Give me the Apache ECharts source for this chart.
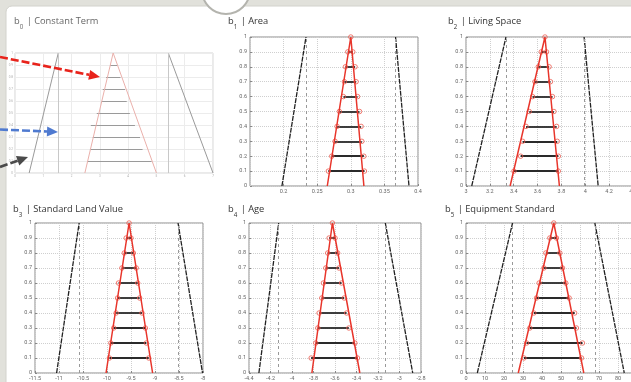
<!DOCTYPE html>
<html>
<head>
<meta charset="utf-8">
<script src="https://cdn.jsdelivr.net/npm/echarts@6/dist/echarts.min.js"></script>
<style>
  html, body { margin: 0; padding: 0; background: #e1e1db; }
  #chart { width: 631px; height: 382px; }
</style>
</head>
<body>
<div id="chart"></div>
<script>
// alpha levels of the cuts (same for every coefficient)
const alphaLevels = [0.1, 0.2, 0.3, 0.4, 0.5, 0.6, 0.7, 0.8, 0.9];

// tri = [left foot, peak, right foot], outer = [left bottom, left top, right top, right bottom]
// axis = [min, max, step]
// b0 - axis labels are unreadable in the source, so index units are used
const b0Tri = [2.47, 3.47, 5.0];
const b0Lower = [2.55, 2.65, 2.75, 2.68, 2.89, 3.06, 3.10, 3.22, 3.36];
const b0Upper = [4.83, 4.51, 4.42, 4.24, 4.06, 3.95, 3.89, 3.73, 3.62];
const b0Outer = [0.5, 1.53, 5.42, 7.0];
const b0Axis = [0, 7, 1];

const b1Tri = [0.265, 0.3, 0.3195];
const b1Lower = [0.2666, 0.2716, 0.2766, 0.2796, 0.2830, 0.2890, 0.2905, 0.2920, 0.2955];
const b1Upper = [0.3203, 0.3194, 0.3164, 0.3154, 0.3130, 0.3101, 0.3079, 0.3064, 0.3030];
const b1Outer = [0.1975, 0.2333, 0.3666, 0.3866];
const b1Axis = [0.15, 0.4, 0.05];

const b2Tri = [3.37, 3.662, 3.783];
const b2Lower = [3.402, 3.458, 3.475, 3.503, 3.530, 3.558, 3.578, 3.606, 3.631];
const b2Upper = [3.774, 3.774, 3.765, 3.760, 3.737, 3.725, 3.708, 3.697, 3.675];
const b2Outer = [3.048, 3.335, 3.99, 4.108];
const b2Axis = [3, 4.4, 0.2];

const b3Tri = [-10.02, -9.54, -9.05];
const b3Lower = [-9.95, -9.92, -9.86, -9.81, -9.78, -9.76, -9.69, -9.64, -9.60];
const b3Upper = [-9.13, -9.18, -9.20, -9.27, -9.32, -9.36, -9.39, -9.45, -9.50];
const b3Outer = [-11.05, -10.58, -8.52, -8.01];
const b3Axis = [-11.5, -8, 0.5];

const b4Tri = [-3.815, -3.624, -3.369];
const b4Lower = [-3.822, -3.779, -3.760, -3.748, -3.723, -3.708, -3.686, -3.668, -3.655];
const b4Upper = [-3.391, -3.415, -3.471, -3.492, -3.514, -3.539, -3.563, -3.575, -3.600];
const b4Outer = [-4.308, -4.124, -3.132, -2.877];
const b4Axis = [-4.4, -2.8, 0.2];

const b5Tri = [27.5, 46.2, 62.0];
const b5Lower = [30.5, 31.9, 33.6, 35.7, 37.1, 38.5, 41.0, 42.0, 44.1];
const b5Upper = [60.8, 61.3, 58.1, 57.2, 54.3, 52.5, 50.8, 49.4, 47.6];
const b5Outer = [5.95, 24.5, 67.8, 83.3];
const b5Axis = [0, 90, 10];

const panels = [
  { name: 'Constant Term', sub: '0', tri: b0Tri, lower: b0Lower, upper: b0Upper, outer: b0Outer, axis: b0Axis,
    faded: true, grid: { left: 15, top: 53, width: 198, height: 120 }, title: { left: 14, top: 17 } },
  { name: 'Area', sub: '1', tri: b1Tri, lower: b1Lower, upper: b1Upper, outer: b1Outer, axis: b1Axis,
    hideMin: true, grid: { left: 250, top: 37, width: 168, height: 149 }, title: { left: 228, top: 17 } },
  { name: 'Living Space', sub: '2', tri: b2Tri, lower: b2Lower, upper: b2Upper, outer: b2Outer, axis: b2Axis,
    grid: { left: 466, top: 37, width: 167, height: 149 }, title: { left: 448, top: 17 } },
  { name: 'Standard Land Value', sub: '3', tri: b3Tri, lower: b3Lower, upper: b3Upper, outer: b3Outer, axis: b3Axis,
    grid: { left: 35, top: 223, width: 168, height: 150 }, title: { left: 13, top: 205 } },
  { name: 'Age', sub: '4', tri: b4Tri, lower: b4Lower, upper: b4Upper, outer: b4Outer, axis: b4Axis,
    grid: { left: 249, top: 223, width: 172, height: 150 }, title: { left: 228, top: 205 } },
  { name: 'Equipment Standard', sub: '5', tri: b5Tri, lower: b5Lower, upper: b5Upper, outer: b5Outer, axis: b5Axis,
    grid: { left: 466, top: 223, width: 171, height: 150 }, title: { left: 445, top: 205 } },
];

const RED = '#e8352b';
const FONT = '"Open Sans", "Liberation Sans", sans-serif';

const grid = [], xAxis = [], yAxis = [], series = [], title = [];

panels.forEach((p, i) => {
  const f = !!p.faded;
  grid.push(Object.assign({}, p.grid, {
    show: true, backgroundColor: '#fff', borderColor: f ? '#d4d4d4' : '#8c8c8c', borderWidth: 1,
    outerBoundsMode: 'none'
  }));
  const lbl = f ? { fontSize: 3, color: '#aaa', margin: 2 } : { fontSize: 5.5, color: '#666', margin: 3 };
  xAxis.push({
    gridIndex: i, type: 'value', min: p.axis[0], max: p.axis[1], interval: p.axis[2],
    axisLine: { show: false },
    axisTick: { show: !f, inside: true, length: 2, lineStyle: { color: '#888' } },
    axisLabel: Object.assign({ showMinLabel: !p.hideMin, fontFamily: 'Roboto' }, lbl),
    splitLine: { show: true, lineStyle: { type: f ? 'solid' : 'dotted', color: f ? '#ececec' : '#cfcfcf' } }
  });
  yAxis.push({
    gridIndex: i, type: 'value', min: 0, max: 1, interval: 0.1,
    axisLine: { show: false },
    axisTick: { show: !f, inside: true, length: 2, lineStyle: { color: '#888' } },
    axisLabel: Object.assign({ fontFamily: 'Roboto' }, lbl),
    splitLine: { show: true, lineStyle: { type: f ? 'solid' : 'dotted', color: f ? '#ececec' : '#cfcfcf' } }
  });

  const o = p.outer;
  // outer support lines
  series.push({
    type: 'lines', coordinateSystem: 'cartesian2d', xAxisIndex: i, yAxisIndex: i, silent: true,
    lineStyle: { color: f ? '#9a9a9a' : '#222', width: f ? 1 : 1.3, type: f ? 'solid' : [5, 1], opacity: 1 },
    data: [{ coords: [[o[0], 0], [o[1], 1]] }, { coords: [[o[2], 1], [o[3], 0]] }]
  });
  series.push({
    type: 'lines', coordinateSystem: 'cartesian2d', xAxisIndex: i, yAxisIndex: i, silent: true,
    lineStyle: { color: f ? '#c8c8c8' : '#999', width: 1, type: f ? 'solid' : [3, 3], opacity: 1 },
    data: [{ coords: [[o[1], 0], [o[1], 1]] }, { coords: [[o[2], 0], [o[2], 1]] }]
  });
  // alpha cuts
  series.push({
    type: 'lines', coordinateSystem: 'cartesian2d', xAxisIndex: i, yAxisIndex: i, silent: true,
    lineStyle: { color: f ? '#9a9a9a' : '#2a2a2a', width: f ? 1.2 : 1.8, opacity: 1 },
    data: alphaLevels.map((a, k) => ({ coords: [[p.lower[k], a], [p.upper[k], a]] }))
  });
  // fuzzy triangle
  series.push({
    type: 'line', xAxisIndex: i, yAxisIndex: i, silent: true, symbol: 'none',
    lineStyle: { color: f ? '#eab0ab' : RED, width: f ? 1 : 1.5 },
    data: [[p.tri[0], 0], [p.tri[1], 1], [p.tri[2], 0]]
  });
  if (!f) {
    const pts = [];
    alphaLevels.forEach((a, k) => { pts.push([p.lower[k], a]); pts.push([p.upper[k], a]); });
    pts.push([p.tri[1], 1]);
    series.push({
      type: 'scatter', xAxisIndex: i, yAxisIndex: i, silent: true, symbol: 'circle', symbolSize: 4.5,
      itemStyle: { color: 'rgba(255,255,255,0)', borderColor: '#ee5b50', borderWidth: 1 },
      data: pts
    });
  }

  const col = f ? '#666' : '#333';
  title.push({
    left: p.title.left, top: p.title.top, padding: 0,
    text: '{b|b}{s|' + p.sub + '}{t| | ' + p.name + '}',
    textStyle: {
      fontWeight: 'normal',
      rich: {
        b: { fontFamily: FONT, fontSize: 9.3, fontWeight: 'normal', lineHeight: 13, verticalAlign: 'top', color: col },
        s: { fontFamily: FONT, fontSize: 6.2, fontWeight: 'normal', lineHeight: 7, verticalAlign: 'top', padding: [7, 1, 0, 0], color: col },
        t: { fontFamily: FONT, fontSize: 9.3, fontWeight: 'normal', lineHeight: 13, verticalAlign: 'top', color: col }
      }
    }
  });
});

// dashed pointer arrows on the left (slide annotation)
function arrow(x1, y1, x2, y2, color) {
  const dx = x2 - x1, dy = y2 - y1, len = Math.hypot(dx, dy);
  const ux = dx / len, uy = dy / len, hl = 11, hw = 5;
  const bx = x2 - ux * hl, by = y2 - uy * hl;
  return [
    { type: 'line', z: 50, shape: { x1: x1, y1: y1, x2: bx, y2: by },
      style: { stroke: color, lineWidth: 2.6, lineDash: [8, 3] } },
    { type: 'polygon', z: 50, shape: { points: [[x2, y2], [bx - uy * hw, by + ux * hw], [bx + uy * hw, by - ux * hw]] },
      style: { fill: color } }
  ];
}

const graphic = [
  { type: 'rect', z: -10, shape: { x: 6, y: 6, width: 640, height: 400, r: 6 },
    style: { fill: '#fff', stroke: '#d2d2cc', lineWidth: 1 } },
  { type: 'circle', z: -9, shape: { cx: 226, cy: -10, r: 24 },
    style: { fill: '#fff', stroke: '#b4b4ae', lineWidth: 2 } }
].concat(
  arrow(0, 57, 100, 77, '#e8231b'),
  arrow(0, 129.5, 58, 132, '#4f7ad0'),
  arrow(0, 167, 28, 157, '#4a4a4a')
);

const chart = echarts.init(document.getElementById('chart'));
chart.setOption({
  animation: false,
  backgroundColor: '#e1e1db',
  title: title,
  grid: grid,
  xAxis: xAxis,
  yAxis: yAxis,
  series: series,
  graphic: graphic
});
window.addEventListener('resize', () => chart.resize());
</script>
</body>
</html>
